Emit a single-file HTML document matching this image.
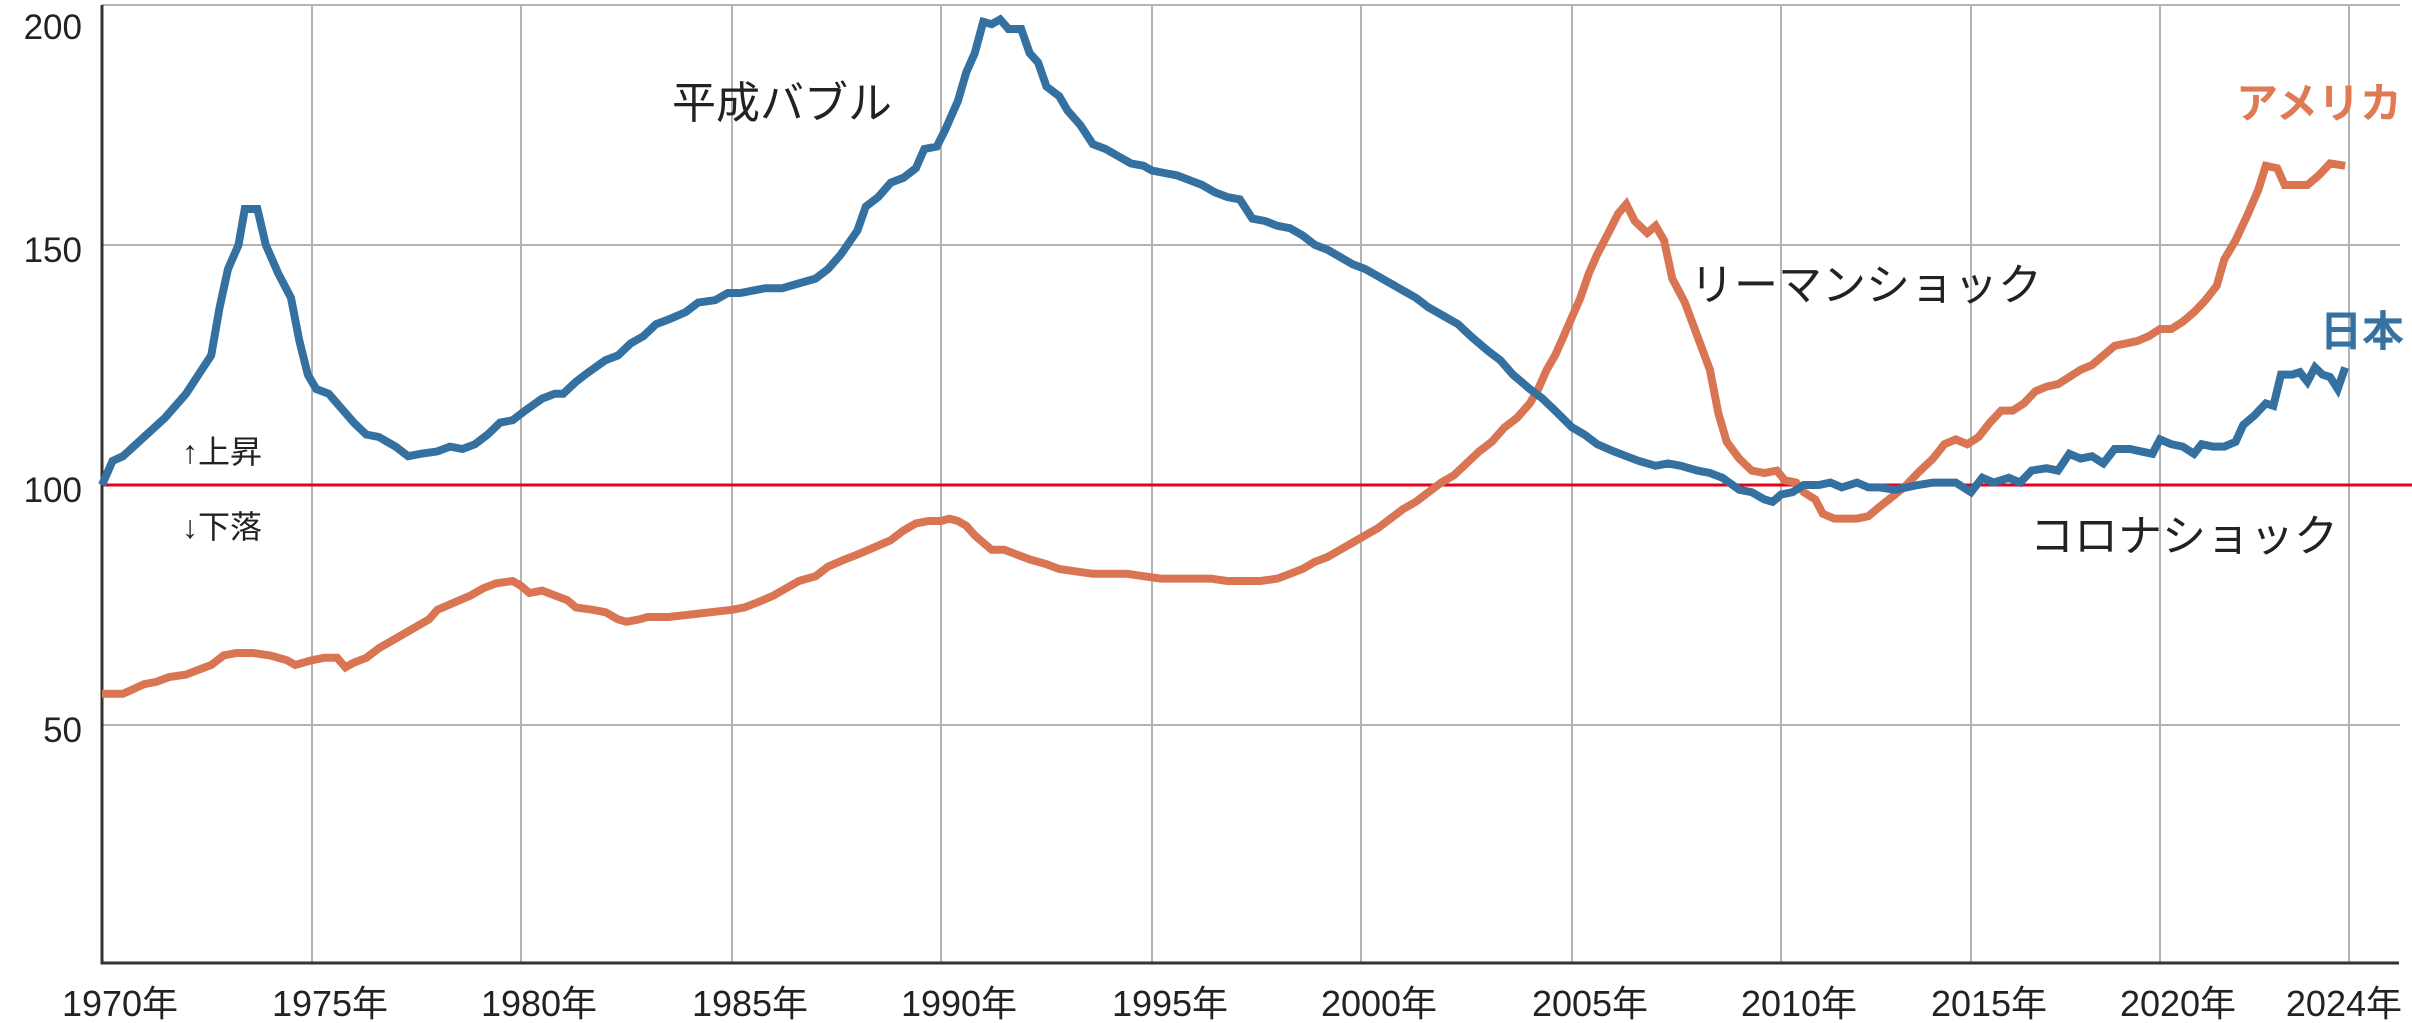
<!DOCTYPE html>
<html lang="ja">
<head>
<meta charset="utf-8">
<style>
  html, body { margin: 0; padding: 0; background: #ffffff; }
  body { width: 2412px; height: 1023px; overflow: hidden; }
  svg { display: block; }
  text { font-family: "Liberation Sans", "Noto Sans CJK JP", sans-serif; fill: #222; }
</style>
</head>
<body>
<svg id="chart" width="2412" height="1023" viewBox="0 0 2412 1023" xmlns="http://www.w3.org/2000/svg">
  <g id="grid"></g>
  <g id="axes"></g>
  <g id="series"></g>
  <g id="labels">
    <text x="672" y="118" font-size="44">平成バブル</text>
    <text x="1690" y="300" font-size="44">リーマンショック</text>
    <text x="2030" y="551" font-size="44">コロナショック</text>
    <text x="2236" y="118" font-size="42" font-weight="bold" style="fill:#e07a55">アメリカ</text>
    <text x="2320" y="346" font-size="42" font-weight="bold" style="fill:#3571a1">日本</text>
    <text x="182" y="463" font-size="32">↑上昇</text>
    <text x="182" y="538" font-size="32">↓下落</text>
  </g>
</svg>
<script>
// ---- chart data ----
const xTickYears = [1970, 1975, 1980, 1985, 1990, 1995, 2000, 2005, 2010, 2015, 2020, 2025];
const xTickLabels = ["1970年","1975年","1980年","1985年","1990年","1995年","2000年","2005年","2010年","2015年","2020年","2024年"];
const yTickValues = [200, 150, 100, 50];
const yTickLabels = ["200", "150", "100", "50"];

const jpYears = [1970,1970.25,1970.5,1971,1971.5,1972,1972.3,1972.6,1972.8,1973,1973.25,1973.4,1973.7,1973.9,1974.2,1974.5,1974.7,1974.9,1975.1,1975.4,1975.7,1976,1976.3,1976.6,1977,1977.3,1977.6,1978,1978.3,1978.6,1978.9,1979.2,1979.5,1979.8,1980.1,1980.5,1980.8,1981,1981.3,1981.6,1982,1982.3,1982.6,1982.9,1983.2,1983.5,1983.9,1984.2,1984.6,1984.9,1985.2,1985.5,1985.8,1986.2,1986.6,1987,1987.3,1987.6,1988,1988.2,1988.5,1988.8,1989.1,1989.4,1989.6,1989.9,1990.1,1990.4,1990.6,1990.8,1991,1991.2,1991.4,1991.6,1991.9,1992.1,1992.3,1992.5,1992.8,1993,1993.3,1993.6,1993.9,1994.2,1994.5,1994.8,1995,1995.3,1995.6,1995.9,1996.2,1996.5,1996.8,1997.1,1997.4,1997.7,1998,1998.3,1998.6,1998.9,1999.2,1999.5,1999.8,2000.1,2000.4,2000.7,2001,2001.3,2001.6,2002,2002.3,2002.6,2003,2003.3,2003.6,2004,2004.3,2004.6,2005,2005.3,2005.6,2006,2006.3,2006.6,2007,2007.3,2007.6,2008,2008.3,2008.6,2009,2009.3,2009.6,2009.8,2010,2010.3,2010.6,2011,2011.3,2011.6,2012,2012.3,2012.6,2013,2013.3,2013.6,2014,2014.3,2014.6,2015,2015.3,2015.6,2016,2016.3,2016.6,2017,2017.3,2017.6,2017.9,2018.2,2018.5,2018.8,2019.2,2019.5,2019.8,2020,2020.3,2020.6,2020.9,2021.1,2021.4,2021.7,2022,2022.2,2022.5,2022.8,2023,2023.2,2023.5,2023.7,2023.9,2024.1,2024.3,2024.5,2024.7,2024.9];
const jpValues = [100,105,106,110,114,119,123,127,137,145,150,157.5,157.5,150,144,139,130,123,120,119,116,113,110.5,110,108,106,106.5,107,108,107.5,108.5,110.5,113,113.5,115.5,118,119,119,121.5,123.5,126,127,129.5,131,133.5,134.5,136,138,138.5,140,140,140.5,141,141,142,143,145,148,153,158,160,163,164,166,170,170.5,174,180,186,190,196.5,196,197,195,195,190,188,183,181,178,175,171,170,168.5,167,166.5,165.5,165,164.5,163.5,162.5,161,160,159.5,155.5,155,154,153.5,152,150,149,147.5,146,145,143.5,142,140.5,139,137,135,133.5,131,128,126,123,120,118,115.5,112,110.5,108.5,107,106,105,104,104.5,104,103,102.5,101.5,99,98.5,97,96.5,98,98.5,100,100,100.5,99.5,100.5,99.5,99.5,99,99.5,100,100.5,100.5,100.5,98.5,101.5,100.5,101.5,100.5,103,103.5,103,106.5,105.5,106,104.5,107.5,107.5,107,106.5,109.5,108.5,108,106.5,108.5,108,108,109,112.5,114.5,117,116.5,123,123,123.5,121.5,124.5,123,122.5,120,124.5];

const usYears = [1970,1970.5,1971,1971.3,1971.6,1972,1972.3,1972.6,1972.9,1973.2,1973.6,1974,1974.4,1974.6,1975,1975.3,1975.6,1975.8,1976,1976.3,1976.6,1977,1977.4,1977.8,1978,1978.4,1978.8,1979.1,1979.4,1979.8,1980,1980.2,1980.5,1980.8,1981.1,1981.3,1981.7,1982,1982.3,1982.5,1982.8,1983,1983.5,1984,1984.5,1985,1985.3,1985.6,1986,1986.3,1986.6,1987,1987.3,1987.7,1988,1988.4,1988.8,1989.1,1989.4,1989.7,1990,1990.2,1990.4,1990.6,1990.8,1991,1991.2,1991.5,1991.8,1992.1,1992.5,1992.8,1993.2,1993.6,1994,1994.4,1994.8,1995.2,1995.6,1996,1996.4,1996.8,1997.2,1997.6,1998,1998.3,1998.6,1998.9,1999.2,1999.5,1999.8,2000.1,2000.4,2000.7,2001,2001.3,2001.6,2001.9,2002.2,2002.5,2002.8,2003.1,2003.4,2003.7,2004,2004.2,2004.4,2004.6,2004.8,2005,2005.2,2005.4,2005.6,2005.9,2006.1,2006.3,2006.5,2006.8,2007,2007.2,2007.4,2007.7,2008,2008.3,2008.5,2008.7,2009,2009.3,2009.6,2009.9,2010.1,2010.4,2010.6,2010.9,2011.1,2011.4,2011.7,2012,2012.3,2012.6,2013,2013.3,2013.6,2014,2014.3,2014.6,2014.9,2015.2,2015.5,2015.8,2016.1,2016.4,2016.7,2017,2017.3,2017.6,2017.9,2018.2,2018.5,2018.8,2019.1,2019.4,2019.7,2020,2020.3,2020.6,2020.9,2021.2,2021.5,2021.7,2022,2022.3,2022.6,2022.8,2023.1,2023.3,2023.6,2023.9,2024.2,2024.5,2024.9];
const usValues = [56.5,56.5,58.5,59,60,60.5,61.5,62.5,64.5,65,65,64.5,63.5,62.5,63.5,64,64,62,63,64,66,68,70,72,74,75.5,77,78.5,79.5,80,79,77.5,78,77,76,74.5,74,73.5,72,71.5,72,72.5,72.5,73,73.5,74,74.5,75.5,77,78.5,80,81,83,84.5,85.5,87,88.5,90.5,92,92.5,92.5,93,92.5,91.5,89.5,88,86.5,86.5,85.5,84.5,83.5,82.5,82,81.5,81.5,81.5,81,80.5,80.5,80.5,80.5,80,80,80,80.5,81.5,82.5,84,85,86.5,88,89.5,91,93,95,96.5,98.5,100.5,102,104.5,107,109,112,114,117,120,124,127,131,135,139,144,148,153,156.5,158.5,155,152.5,154,151,143,138,131,124,115,109,105.5,103,102.5,103,101,100.5,98.5,97,94,93,93,93,93.5,95.5,98,100,102.5,105.5,108.5,109.5,108.5,110,113,115.5,115.5,117,119.5,120.5,121,122.5,124,125,127,129,129.5,130,131,132.5,132.5,134,136,138.5,141.5,147,151,156,161.5,166.5,166,162.5,162.5,162.5,164.5,167,166.5];

// ---- layout ----
const NS = "http://www.w3.org/2000/svg";
const tickX = [102, 312, 521, 732, 941, 1152, 1361, 1572, 1781, 1971, 2160, 2349];
const plotLeft = 102, plotRight = 2399, plotTop = 5, plotBottom = 963;
function xScale(year) {
  for (let i = 0; i < xTickYears.length - 1; i++) {
    if (year <= xTickYears[i + 1] || i === xTickYears.length - 2) {
      const t = (year - xTickYears[i]) / (xTickYears[i + 1] - xTickYears[i]);
      return tickX[i] + t * (tickX[i + 1] - tickX[i]);
    }
  }
}
function yScale(v) { return 965 - v * 4.8; }

function mk(tag, attrs, parent) {
  const el = document.createElementNS(NS, tag);
  for (const k in attrs) el.setAttribute(k, attrs[k]);
  parent.appendChild(el);
  return el;
}

const grid = document.getElementById('grid');
const axes = document.getElementById('axes');
const series = document.getElementById('series');

// vertical gridlines + x labels
xTickYears.forEach((yr, i) => {
  const x = xScale(yr);
  if (i > 0) {
    const gl = mk('line', {x1: x, x2: x, y1: plotTop, y2: plotBottom, stroke: '#b3b3b3', 'stroke-width': 2}, grid);
    
    
  }
  const last = i === xTickYears.length - 1;
  const t = mk('text', {x: last ? 2402 : x + 18, y: 1016, 'font-size': 36, 'text-anchor': last ? 'end' : 'middle'}, axes);
  t.textContent = xTickLabels[i];
  
  
});

// horizontal gridlines + y labels
yTickValues.forEach((v, i) => {
  const y = yScale(v);
  if (v !== 100) {
    const gl = mk('line', {x1: plotLeft, x2: 2400, y1: y, y2: y, stroke: '#b3b3b3', 'stroke-width': 2}, grid);
    
    
  }
  const t = mk('text', {x: 82, y: Math.max(y, 22) + 17, 'font-size': 35, 'text-anchor': 'end'}, axes);
  t.textContent = yTickLabels[i];
  
  
});

// baseline 100
const base = mk('line', {x1: plotLeft, x2: 2412, y1: yScale(100), y2: yScale(100), stroke: '#e5001b', 'stroke-width': 3}, axes);



// axes lines
const yAxis = mk('line', {x1: plotLeft, x2: plotLeft, y1: plotTop, y2: plotBottom + 1, stroke: '#333', 'stroke-width': 3}, axes);


const xAxis = mk('line', {x1: plotLeft - 1.5, x2: plotRight, y1: plotBottom, y2: plotBottom, stroke: '#333', 'stroke-width': 3}, axes);



function drawLine(years, values, color, name) {
  const pts = years.map((yr, i) => xScale(yr).toFixed(1) + ',' + yScale(values[i]).toFixed(1)).join(' ');
  const pl = mk('polyline', {points: pts, fill: 'none', stroke: color, 'stroke-width': 8, 'stroke-linejoin': 'miter', 'stroke-miterlimit': 3}, series);
  
  
}
drawLine(usYears, usValues, '#d97552', 'usa-line');
drawLine(jpYears, jpValues, '#3470a0', 'japan-line');
</script>
</body>
</html>
